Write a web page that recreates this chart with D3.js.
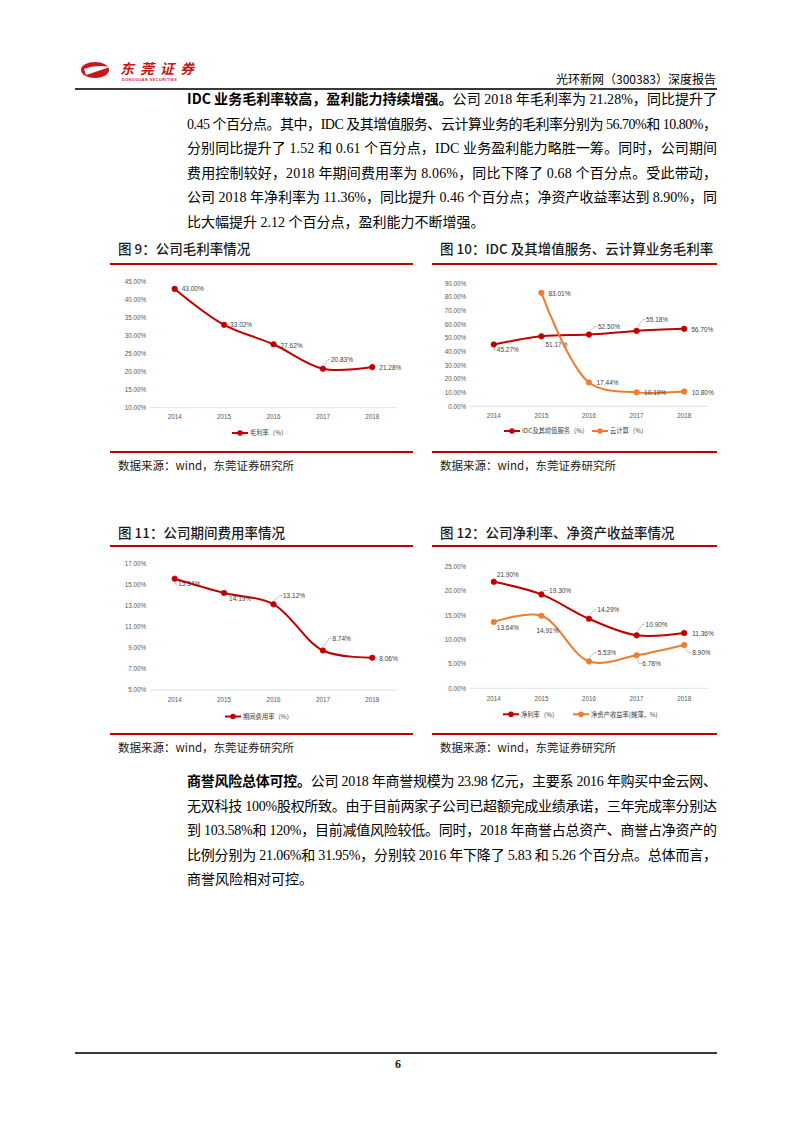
<!DOCTYPE html>
<html><head><meta charset="utf-8">
<script src="https://cdn.jsdelivr.net/npm/d3@7"></script>
<style>
body{margin:0;background:#fff;}
svg{display:block;}
</style></head>
<body>
<script>
// ---------- data ----------
const years = ["2014","2015","2016","2017","2018"];
const grossMargin = [0.4300,0.3302,0.2762,0.2083,0.2128];
const idcMargin = [0.4527,0.5117,0.5250,0.5518,0.5670];
const cloudMargin = [null,0.8301,0.1744,0.1019,0.1080];
const expenseRatio = [0.1554,0.1419,0.1312,0.0874,0.0806];
const netMargin = [0.2190,0.1930,0.1429,0.1090,0.1136];
const roe = [0.1364,0.1491,0.0553,0.0678,0.0890];
const ticks9 = [0.10,0.15,0.20,0.25,0.30,0.35,0.40,0.45];
const ticks10 = [0,0.1,0.2,0.3,0.4,0.5,0.6,0.7,0.8,0.9];
const ticks11 = [0.05,0.07,0.09,0.11,0.13,0.15,0.17];
const ticks12 = [0,0.05,0.10,0.15,0.20,0.25];
const legend9 = ["毛利率（%）"];
const legend10 = ["IDC及其增值服务（%）","云计算（%）"];
const legend11 = ["期间费用率（%）"];
const legend12 = ["净利率（%）","净资产收益率(摊薄，%)"];

// label placement (layout only): [dx, dy, leader]
const lab9 = [[7,0,0],[6,0,0],[7,1,0],[8,-9,1],[7,1,0]];
const lab10a = [[3,5.5,1],[4,8,0],[9,-8,1],[9.5,-11.5,1],[7,1.3,0]];
const lab10b = [null,[7,0.7,0],[7.5,0.7,0],[7.5,0.7,0],[7.5,0.7,0]];
const lab11 = [[3.5,5.3,1],[5,6,0],[9.5,-8.7,1],[9.5,-12.3,1],[7,0.7,0]];
const lab12a = [[3,-6.7,0],[7.7,-4,1],[8.3,-9,1],[9,-11,1],[8,0.7,0]];
const lab12b = [[3,5.7,0],[-5,15,0],[8.7,-9,1],[5.7,8,1],[8,7.7,1]];

const RED = "#C00000", ORANGE = "#ED7D31";
const CJK = "'Noto Sans CJK SC','Noto Sans',sans-serif";
const BODY = "'Liberation Serif','Noto Sans CJK SC',serif";
const SMALL = "'Liberation Sans','Noto Sans CJK SC',sans-serif";

const svg = d3.select("body").append("svg").attr("width",793).attr("height",1122);
svg.append("rect").attr("width",793).attr("height",1122).attr("fill","#fff");

// ---------- header ----------
const logo = svg.append("g");
logo.append("ellipse").attr("cx",95).attr("cy",70).attr("rx",14).attr("ry",8).attr("fill","#C8161D");
logo.append("path").attr("d","M84,69 Q96,64 110,67 Q98,71 86,75 Z").attr("fill","#fff");
logo.append("text").attr("x",120).attr("y",74).attr("font-family",CJK).attr("font-weight","bold")
  .attr("font-size",14).attr("letter-spacing",6).attr("fill","#C8161D").attr("font-style","italic").text("东莞证券");
logo.append("text").attr("x",122).attr("y",81).attr("font-family",SMALL).attr("font-size",3.6)
  .attr("font-weight","bold").attr("fill","#C8161D").attr("letter-spacing",0.6).text("DONGGUAN SECURITIES");
svg.append("text").attr("x",716).attr("y",84).attr("text-anchor","end").attr("font-family",CJK)
  .attr("font-size",12).attr("fill","#000").text("光环新网（300383）深度报告");
svg.append("line").attr("x1",75).attr("x2",717).attr("y1",89).attr("y2",89).attr("stroke","#3a3a3a").attr("stroke-width",2);

// ---------- paragraphs ----------
function para(lines, x, y0, lh, width){
  lines.forEach((ln,i)=>{
    const t = svg.append("text").attr("x",x).attr("y",y0+i*lh).attr("font-family",BODY)
      .attr("font-size",14).attr("fill","#000");
    if(ln.just){ t.attr("textLength",width).attr("lengthAdjust","spacing"); }
    if(ln.b) t.append("tspan").attr("font-weight","bold").attr("font-family",CJK).text(ln.b);
    t.append("tspan").text(ln.t);
  });
}
para([
 {b:"IDC 业务毛利率较高，盈利能力持续增强。",t:"公司 2018 年毛利率为 21.28%，同比提升了",just:1},
 {t:"0.45 个百分点。其中，IDC 及其增值服务、云计算业务的毛利率分别为 56.70%和 10.80%，",just:1},
 {t:"分别同比提升了 1.52 和 0.61 个百分点，IDC 业务盈利能力略胜一筹。同时，公司期间",just:1},
 {t:"费用控制较好，2018 年期间费用率为 8.06%，同比下降了 0.68 个百分点。受此带动，",just:1},
 {t:"公司 2018 年净利率为 11.36%，同比提升 0.46 个百分点；净资产收益率达到 8.90%，同",just:1},
 {t:"比大幅提升 2.12 个百分点，盈利能力不断增强。"}
],187,104,24.5,530);
para([
 {b:"商誉风险总体可控。",t:"公司 2018 年商誉规模为 23.98 亿元，主要系 2016 年购买中金云网、",just:1},
 {t:"无双科技 100%股权所致。由于目前两家子公司已超额完成业绩承诺，三年完成率分别达",just:1},
 {t:"到 103.58%和 120%，目前减值风险较低。同时，2018 年商誉占总资产、商誉占净资产的",just:1},
 {t:"比例分别为 21.06%和 31.95%，分别较 2016 年下降了 5.83 和 5.26 个百分点。总体而言，",just:1},
 {t:"商誉风险相对可控。"}
],187,786,24.5,530);

// ---------- figure frames ----------
function frame(x1,x2,titleY,topLine,botLine,title){
  svg.append("text").attr("x",x1+8).attr("y",titleY).attr("font-family",CJK).attr("font-size",13.5)
    .attr("font-weight",500).attr("fill","#1a1a1a").text(title);
  svg.append("line").attr("x1",x1).attr("x2",x2).attr("y1",topLine).attr("y2",topLine).attr("stroke",RED).attr("stroke-width",2);
  svg.append("line").attr("x1",x1).attr("x2",x2).attr("y1",botLine).attr("y2",botLine).attr("stroke",RED).attr("stroke-width",2);
  svg.append("text").attr("x",x1+8).attr("y",botLine+18).attr("font-family",CJK).attr("font-size",11.5)
    .attr("fill","#1a1a1a").text("数据来源：wind，东莞证券研究所");
}
frame(110,413,254,264,452,"图 9：公司毛利率情况");
frame(432,717,254,264,452,"图 10：IDC 及其增值服务、云计算业务毛利率");
frame(110,413,538,546,734,"图 11：公司期间费用率情况");
frame(432,717,538,546,734,"图 12：公司净利率、净资产收益率情况");

// ---------- chart builder ----------
function chart(cfg){
  const g = svg.append("g");
  const x = d3.scaleBand().domain(years).range(cfg.xr);
  const y = d3.scaleLinear().domain(cfg.yd).range(cfg.yr);
  const cx = d => x(d) + x.bandwidth()/2;
  // y tick labels
  g.selectAll(".yt").data(cfg.ticks).join("text")
    .attr("x",cfg.xr[0]-4).attr("y",d=>y(d)+2.3).attr("text-anchor","end")
    .attr("font-family",SMALL).attr("font-size",6.3).attr("fill","#595959").text(d3.format(".2%"));
  // x axis
  g.append("line").attr("x1",cfg.xr[0]).attr("x2",cfg.xr[1]).attr("y1",y(cfg.yd[0])).attr("y2",y(cfg.yd[0]))
    .attr("stroke","#d9d9d9").attr("stroke-width",0.8);
  g.selectAll(".xt").data(years).join("text")
    .attr("x",d=>cx(d)).attr("y",cfg.xLabY).attr("text-anchor","middle")
    .attr("font-family",SMALL).attr("font-size",6.3).attr("fill","#595959").text(d=>d);
  cfg.series.forEach(s=>{
    const pts = years.map((yr,i)=>({yr,v:s.values[i],l:s.labels[i]}));
    const line = d3.line().defined(d=>d.v!=null).x(d=>cx(d.yr)).y(d=>y(d.v)).curve(d3.curveCatmullRom.alpha(0.5));
    g.append("path").datum(pts).attr("d",line).attr("fill","none").attr("stroke",s.color).attr("stroke-width",2);
    const ok = pts.filter(d=>d.v!=null);
    g.selectAll(null).data(ok).join("circle").attr("cx",d=>cx(d.yr)).attr("cy",d=>y(d.v)).attr("r",2.8)
      .attr("fill",s.color).attr("stroke",s.color).attr("stroke-width",0.6);
    ok.forEach(d=>{
      const px=cx(d.yr), py=y(d.v), lx=px+d.l[0], ly=py+d.l[1];
      if(d.l[2]){
        const sy = ly<py ? py-3.5 : py+3.5;
        g.append("path").attr("d",`M${px+0.5},${sy} L${lx-3},${ly} L${lx-0.5},${ly}`)
          .attr("fill","none").attr("stroke","#a6a6a6").attr("stroke-width",0.7);
      }
      g.append("text").attr("x",lx).attr("y",ly+2.3).attr("font-family",SMALL).attr("font-size",6.5)
        .attr("fill","#404040").text(d3.format(".2%")(d.v));
    });
  });
  // legend
  cfg.legend.forEach((L,i)=>{
    const s = cfg.series[i];
    g.append("line").attr("x1",L.x).attr("x2",L.x+16).attr("y1",cfg.legY).attr("y2",cfg.legY).attr("stroke",s.color).attr("stroke-width",2);
    g.append("circle").attr("cx",L.x+8).attr("cy",cfg.legY).attr("r",2.8).attr("fill",s.color);
    g.append("text").attr("x",L.x+18).attr("y",cfg.legY+2.3).attr("font-family",CJK).attr("font-size",6.3)
      .attr("fill","#404040").text(L.t);
  });
}

chart({xr:[150,397],yd:[0.10,0.45],yr:[407.7,281.7],ticks:ticks9,xLabY:419,legY:433,
  series:[{values:grossMargin,color:RED,labels:lab9}],
  legend:[{x:232,t:legend9[0]}]});
chart({xr:[470,708],yd:[0,0.9],yr:[406.3,283.3],ticks:ticks10,xLabY:418,legY:431,
  series:[{values:idcMargin,color:RED,labels:lab10a},{values:cloudMargin,color:ORANGE,labels:lab10b}],
  legend:[{x:504,t:legend10[0]},{x:592,t:legend10[1]}]});
chart({xr:[150,397],yd:[0.05,0.17],yr:[690,563.3],ticks:ticks11,xLabY:702,legY:716.5,
  series:[{values:expenseRatio,color:RED,labels:lab11}],
  legend:[{x:225,t:legend11[0]}]});
chart({xr:[470,708],yd:[0,0.25],yr:[688.3,566.7],ticks:ticks12,xLabY:700.5,legY:714.3,
  series:[{values:netMargin,color:RED,labels:lab12a},{values:roe,color:ORANGE,labels:lab12b}],
  legend:[{x:503,t:legend12[0]},{x:573,t:legend12[1]}]});

// ---------- footer ----------
svg.append("line").attr("x1",75).attr("x2",717).attr("y1",1053).attr("y2",1053).attr("stroke","#3a3a3a").attr("stroke-width",2);
svg.append("text").attr("x",398).attr("y",1068).attr("text-anchor","middle").attr("font-family","'Liberation Serif',serif")
  .attr("font-weight","bold").attr("font-size",12).attr("fill","#1a1a1a").text("6");
</script>
</body></html>
